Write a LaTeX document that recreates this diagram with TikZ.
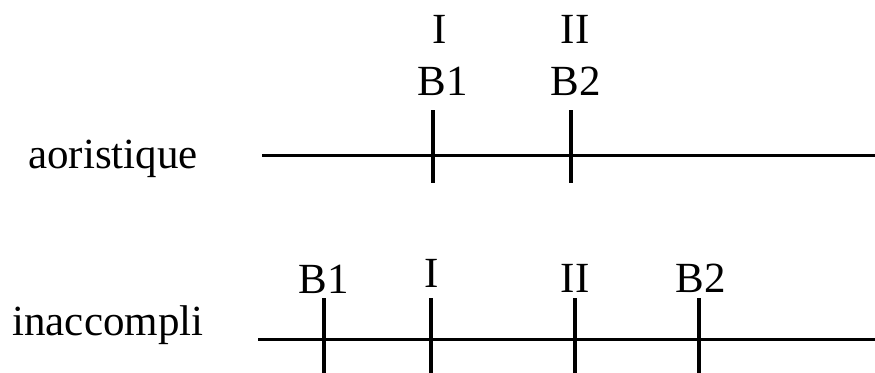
\documentclass[tikz,border=0pt]{standalone}
\usepackage{fontspec}
\setmainfont{Liberation Serif}
\usepackage{tikz}

\tikzset{
  timeline/.style={line width=1.5pt},
  tickmark/.style={line width=1.7pt},
  marklabel/.style={anchor=base, inner sep=0pt, font=\fontsize{21.5}{26}\selectfont},
  rowlabel/.style={anchor=base west, inner sep=0pt, font=\fontsize{21.5}{26}\selectfont}
}

\begin{document}
\begin{tikzpicture}[x=0.5pt, y=-0.5pt]
  \useasboundingbox (0,0) rectangle (875,372);

  % Aoristique
  \node[rowlabel] (aor) at (28,168) {aoristique};
  \coordinate (aorA) at (262,155);
  \coordinate (aorB) at (875,155);
  \draw[timeline] (aorA) -- (aorB);
  \foreach \x/\n in {433/1, 571/2} {
    \coordinate (aorT\n) at (\x,110);
    \coordinate (aorD\n) at (\x,183);
    \draw[tickmark] (aorT\n) -- (aorD\n);
  }
  \node[marklabel] (aorI) at (440,43) {I};
  \node[marklabel] (aorBi) at (443,95) {B1};
  \node[marklabel] (aorII) at (575,43) {II};
  \node[marklabel] (aorBii) at (576,95) {B2};

  % Inaccompli
  \node[rowlabel] (inac) at (12,335) {inaccompli};
  \coordinate (inacA) at (258,339);
  \coordinate (inacB) at (875,339);
  \draw[timeline] (inacA) -- (inacB);
  \foreach \x/\n in {324/1, 431/2, 575/3, 699/4} {
    \coordinate (inacT\n) at (\x,298);
    \coordinate (inacD\n) at (\x,376);
    \draw[tickmark] (inacT\n) -- (inacD\n);
  }
  \node[marklabel] (inacBi) at (324,293) {B1};
  \node[marklabel] (inacI) at (432,287) {I};
  \node[marklabel] (inacII) at (575,292) {II};
  \node[marklabel] (inacBii) at (701,292) {B2};

\end{tikzpicture}
\end{document}
